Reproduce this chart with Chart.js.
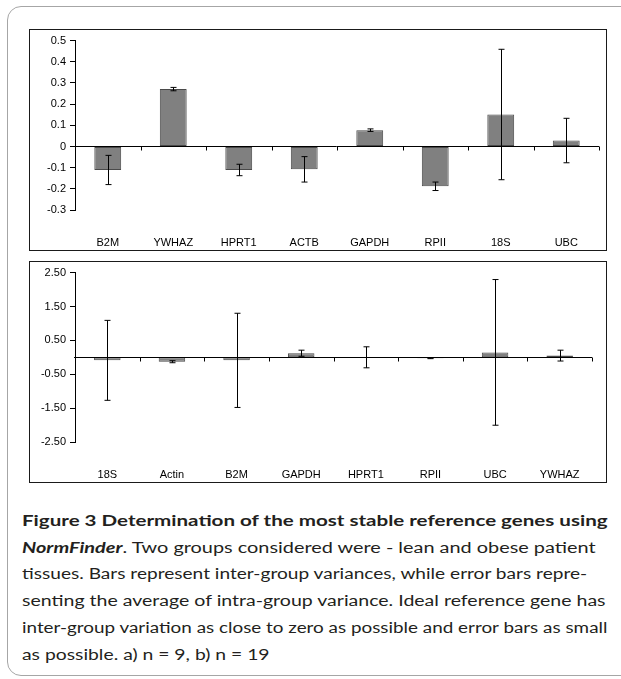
<!DOCTYPE html>
<html>
<head>
<meta charset="utf-8">
<script src="https://cdn.jsdelivr.net/npm/chart.js@4"></script>
<style>
    html, body { margin: 0; padding: 0; background: #fff; width: 621px; height: 679px; overflow: hidden; }
    #frame { position: absolute; left: 7px; top: 6px; width: 660px; height: 670px; border: 1.5px solid #a6a6a6; border-radius: 14px; box-sizing: border-box; }
    .box { position: absolute; left: 29px; width: 578px; height: 222px; border: 1.5px solid #1a1a1a; box-sizing: border-box; }
    .plot { position: absolute; left: 30px; width: 576px; height: 220px; }
    #caption { position: absolute; left: 22px; top: 507px; font-family: Lato, "Open Sans", sans-serif; font-size: 15.5px; line-height: 26.7px; color: #231f20; }
    #caption .line { display: block; white-space: nowrap; }
    #caption .line span { display: inline-block; transform-origin: 0 0; }
</style>
</head>
<body>
<div id="frame"></div>
<div class="box" style="top:29px"></div>
<div class="box" style="top:261px"></div>
<div class="plot" style="top:30px"><canvas id="chartA" width="576" height="220"></canvas></div>
<div class="plot" style="top:262px"><canvas id="chartB" width="576" height="220"></canvas></div>
<div id="caption">
    <div class="line" data-w="586"><span><b>Figure 3 Determination of the most stable reference genes using</b></span></div>
    <div class="line" data-w="573"><span><b><i>NormFinder</i></b>. Two groups considered were - lean and obese patient</span></div>
    <div class="line" data-w="565"><span>tissues. Bars represent inter-group variances, while error bars repre-</span></div>
    <div class="line" data-w="583"><span>senting the average of intra-group variance. Ideal reference gene has</span></div>
    <div class="line" data-w="585"><span>inter-group variation as close to zero as possible and error bars as small</span></div>
    <div class="line" data-w="248"><span>as possible. a) n = 9, b) n = 19</span></div>
</div>
<script>
// a) n = 9
const genesA = ['B2M', 'YWHAZ', 'HPRT1', 'ACTB', 'GAPDH', 'RPII', '18S', 'UBC'];
const valuesA = [-0.111, 0.271, -0.111, -0.108, 0.077, -0.188, 0.151, 0.028];
const errorsA = [0.069, 0.008, 0.027, 0.060, 0.006, 0.020, 0.308, 0.105];
const ticksA = { min: -0.3, max: 0.5, step: 0.1, digits: 1 };

// b) n = 19
const genesB = ['18S', 'Actin', 'B2M', 'GAPDH', 'HPRT1', 'RPII', 'UBC', 'YWHAZ'];
const valuesB = [-0.09, -0.13, -0.09, 0.12, 0.0, -0.03, 0.145, 0.05];
const errorsB = [1.18, 0.03, 1.39, 0.09, 0.31, 0.01, 2.15, 0.16];
const ticksB = { min: -2.5, max: 2.5, step: 1, digits: 2 };

// Axis line through zero with little ticks between categories, then the error bars
const zeroAxisAndErrors = {
    id: 'zeroAxisAndErrors',
    afterDatasetsDraw(chart, args, opts) {
        const ctx = chart.ctx;
        const x = chart.scales.x;
        const y = chart.scales.y;
        const area = chart.chartArea;
        const y0 = Math.round(y.getPixelForValue(0)) + 0.5;
        ctx.save();
        ctx.strokeStyle = '#000';
        ctx.lineWidth = 1;
        ctx.beginPath();
        ctx.moveTo(area.left - 1, y0);
        ctx.lineTo(area.right, y0);
        let n = chart.data.labels.length;
        for (let k = 1; k <= n; k++) {
            let tx = Math.round(area.left + k * (area.right - area.left) / n) + 0.5;
            ctx.moveTo(tx, y0);
            ctx.lineTo(tx, y0 + 4);
        }
        ctx.stroke();
        // error bars
        let values = chart.data.datasets[0].data;
        ctx.beginPath();
        for (let i = 0; i < values.length; i++) {
            let cx = Math.round(x.getPixelForValue(i)) + 0.5;
            let top = y.getPixelForValue(values[i] + opts.errors[i]);
            let bottom = y.getPixelForValue(values[i] - opts.errors[i]);
            ctx.moveTo(cx, top);
            ctx.lineTo(cx, bottom);
            ctx.moveTo(cx - 3, top);
            ctx.lineTo(cx + 3, top);
            ctx.moveTo(cx - 3, bottom);
            ctx.lineTo(cx + 3, bottom);
        }
        ctx.stroke();
        ctx.restore();
    }
};

function makeChart(canvasId, labels, values, errors, t) {
    const font = { family: '"Liberation Sans", Arial, sans-serif', size: 11 };
    return new Chart(document.getElementById(canvasId), {
        type: 'bar',
        data: {
            labels: labels,
            datasets: [{
                data: values,
                backgroundColor: '#808080',
                borderColor: '#4a4a4a',
                borderWidth: 1,
                borderSkipped: false,
                barPercentage: 0.41,
                categoryPercentage: 1
            }]
        },
        options: {
            responsive: false,
            animation: false,
            layout: { padding: { left: 0, right: 7, top: 7.4, bottom: 0 } },
            plugins: {
                legend: { display: false },
                tooltip: { enabled: false },
                zeroAxisAndErrors: { errors: errors }
            },
            scales: {
                x: {
                    grid: { display: false, drawTicks: false },
                    border: { display: false },
                    ticks: { color: '#000', font: font, padding: 26, maxRotation: 0 },
                    afterFit: (s) => { s.height = 40; }
                },
                y: {
                    min: t.min,
                    max: t.max,
                    grid: { drawOnChartArea: false, tickColor: '#000', tickLength: 5 },
                    border: { display: true, color: '#000', width: 1 },
                    ticks: {
                        stepSize: t.step,
                        color: '#000',
                        font: font,
                        padding: 4,
                        callback: (v) => {
                            let s = Number(v).toFixed(t.digits);
                            return t.digits === 1 ? String(Number(s)) : s;
                        }
                    },
                    afterFit: (s) => { s.width = 45; }
                }
            }
        },
        plugins: [zeroAxisAndErrors]
    });
}

makeChart('chartA', genesA, valuesA, errorsA, ticksA);
makeChart('chartB', genesB, valuesB, errorsB, ticksB);

// The caption font is narrower in the original, squeeze each line to its width
document.querySelectorAll('#caption .line').forEach((line) => {
    let span = line.querySelector('span');
    let target = parseFloat(line.dataset.w);
    span.style.transform = `scaleX(${target / span.offsetWidth})`;
});
</script>
</body>
</html>
